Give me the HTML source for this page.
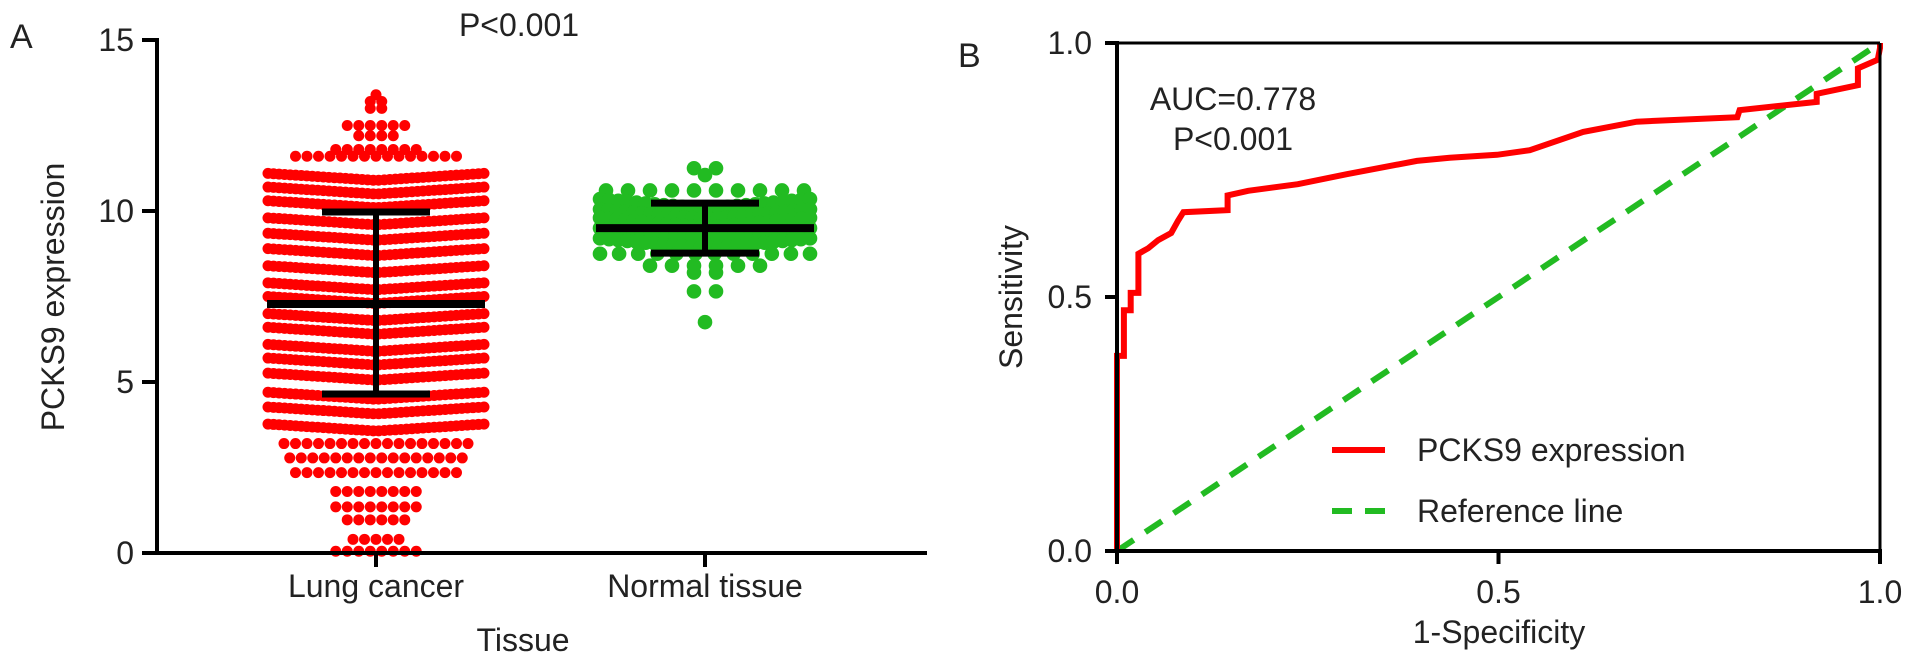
<!DOCTYPE html>
<html><head><meta charset="utf-8"><style>
html,body{margin:0;padding:0;background:#fff;}
svg{display:block;font-family:"Liberation Sans",Arial,sans-serif;}
</style></head><body>
<svg id="fig" width="1913" height="665" viewBox="0 0 1913 665" xmlns="http://www.w3.org/2000/svg">
<g id="panelA"></g>
<g id="panelB"></g>
</svg>
<script>
// ---- Panel A data ----
const lungRowValues = [13.4,13.2,13.0,12.5,12.2,11.8,11.6,11.1,10.7,10.3,9.8,9.35,8.9,8.4,7.9,7.5,7.0,6.6,6.1,5.7,5.26,4.7,4.27,3.77,3.2,2.78,2.35,1.8,1.35,0.97,0.4,0.05];
const lungRowCounts = [1,2,2,6,4,8,15,40,40,40,40,40,40,40,40,40,40,40,40,40,40,40,40,40,17,16,15,8,8,6,5,8];
const normalRowValues = [11.25,11.05,10.6,10.35,10.05,9.8,9.5,9.2,8.75,8.4,8.2,7.65,6.75];
const normalRowCounts = [2,1,10,24,26,26,26,24,12,6,2,2,1];
const groupNames = ["Lung cancer","Normal tissue"];
const groupMeans = [7.28,9.5];
const groupSdHigh = [9.97,10.23];
const groupSdLow = [4.65,8.77];
const yTicksA = [0,5,10,15];
// ---- Panel B data ----
const rocFpr = [0,0,.009,.009,.018,.018,.028,.028,.041,.054,.071,.08,.087,.145,.145,.172,.237,.302,.393,.436,.498,.541,.611,.681,.813,.816,.917,.917,.971,.971,.997,1,1];
const rocSens = [0,.384,.384,.474,.474,.508,.508,.585,.596,.612,.626,.65,.667,.671,.70,.709,.722,.742,.768,.774,.78,.789,.825,.845,.854,.868,.884,.90,.917,.95,.967,.99,1];
const refLine = [0,1];
const ticksB = [0,0.5,1.0];
const tickLabelsB = ["0.0","0.5","1.0"];

const NS="http://www.w3.org/2000/svg";
const FS=32;
function mk(parent,tag,attrs,text){const e=document.createElementNS(NS,tag);for(const k in attrs)e.setAttribute(k,attrs[k]);if(text!==undefined)e.textContent=text;parent.appendChild(e);return e;}

// ===== Panel A =====
const A=document.getElementById('panelA');
const ax0=157, ay0=553, ayTop=40, axEnd=927;
const yA=v=>ay0-(v/15)*(ay0-ayTop);
const groupX=[376,705];
let t;
t=mk(A,'text',{x:10,y:48,'font-size':34,fill:'#222'},'A');


t=mk(A,'text',{x:519,y:36,'font-size':FS,'text-anchor':'middle',fill:'#222'},'P<0.001');



function drawRows(vals,counts,cx,maxW,sp,r,color,amp,name){
  const g=mk(A,'g',{});
  
  
  vals.forEach((v,i)=>{
    const n=counts[i];
    const step=n>1?Math.min(sp,maxW/(n-1)):0;
    const w=step*(n-1);
    const dense=n>=20;
    for(let j=0;j<n;j++){
      const dx=-w/2+j*step;
      const dy=dense&&w>0?amp*(1-Math.abs(dx)/(w/2)):0;
      const c=mk(g,'circle',{cx:cx+dx,cy:yA(v)+dy,r:r,fill:color});
      
      
    }
  });
}
drawRows(lungRowValues,lungRowCounts,groupX[0],216,11.5,5.5,'#ff0000',7,'lung-cancer-points');
drawRows(normalRowValues,normalRowCounts,groupX[1],210,22,7.3,'#22bb22',10,'normal-tissue-points');

const meanHalf=[109,109], capHalf=[54,54];
groupNames.forEach((nm,i)=>{
  const cx=groupX[i];
  const g=mk(A,'g',{stroke:'#000','stroke-linecap':'butt'});
  
  
  mk(g,'line',{x1:cx,x2:cx,y1:yA(groupSdHigh[i]),y2:yA(groupSdLow[i]),'stroke-width':6});
  mk(g,'line',{x1:cx-meanHalf[i],x2:cx+meanHalf[i],y1:yA(groupMeans[i]),y2:yA(groupMeans[i]),'stroke-width':8});
  mk(g,'line',{x1:cx-capHalf[i],x2:cx+capHalf[i],y1:yA(groupSdHigh[i]),y2:yA(groupSdHigh[i]),'stroke-width':7});
  mk(g,'line',{x1:cx-capHalf[i],x2:cx+capHalf[i],y1:yA(groupSdLow[i]),y2:yA(groupSdLow[i]),'stroke-width':7});
});

const axA=mk(A,'g',{stroke:'#000','stroke-width':4});


mk(axA,'line',{x1:ax0,x2:ax0,y1:ayTop-2,y2:ay0+2});
mk(axA,'line',{x1:ax0-15,x2:axEnd,y1:ay0,y2:ay0});
yTicksA.forEach(v=>{
  mk(axA,'line',{x1:ax0-15,x2:ax0,y1:yA(v),y2:yA(v)});
  const l=mk(A,'text',{x:134,y:yA(v)+11,'font-size':FS,'text-anchor':'end',fill:'#222'},String(v));
  
  
});
groupNames.forEach((nm,i)=>{
  mk(axA,'line',{x1:groupX[i],x2:groupX[i],y1:ay0,y2:ay0+14});
  const l=mk(A,'text',{x:groupX[i],y:597,'font-size':FS,'text-anchor':'middle',fill:'#222'},nm);
  
  
});
t=mk(A,'text',{x:523,y:651,'font-size':FS,'text-anchor':'middle',fill:'#222'},'Tissue');


t=mk(A,'text',{x:0,y:0,'font-size':FS,'text-anchor':'middle',fill:'#222',transform:'translate(64,297) rotate(-90)'},'PCKS9 expression');



// ===== Panel B =====
const B=document.getElementById('panelB');
const bx0=1117,bx1=1880,by0=551,by1=43;
const xB=v=>bx0+v*(bx1-bx0);
const yB=v=>by0-v*(by0-by1);
t=mk(B,'text',{x:958,y:67,'font-size':34,fill:'#222'},'B');



const ref=mk(B,'line',{x1:xB(refLine[0]),y1:yB(refLine[0]),x2:xB(refLine[1]),y2:yB(refLine[1]),stroke:'#22bb22','stroke-width':6,'stroke-dasharray':'20 14'});


const pts=rocFpr.map((f,i)=>xB(f).toFixed(1)+','+yB(rocSens[i]).toFixed(1)).join(' ');
const roc=mk(B,'polyline',{points:pts,fill:'none',stroke:'#ff0000','stroke-width':6,'stroke-linejoin':'miter'});



const axB=mk(B,'g',{stroke:'#000','stroke-width':4,fill:'none'});


mk(axB,'line',{x1:bx0,x2:bx1,y1:by1,y2:by1,'stroke-width':3});
mk(axB,'line',{x1:bx1,x2:bx1,y1:by1,y2:by0,'stroke-width':3});
mk(axB,'line',{x1:bx0,x2:bx0,y1:by1-2,y2:by0+2});
mk(axB,'line',{x1:bx0-12,x2:bx1+2,y1:by0,y2:by0});
ticksB.forEach((v,i)=>{
  mk(axB,'line',{x1:bx0-12,x2:bx0,y1:yB(v),y2:yB(v)});
  mk(axB,'line',{x1:xB(v),x2:xB(v),y1:by0,y2:by0+13});
  let l=mk(B,'text',{x:1092,y:yB(v)+11,'font-size':FS,'text-anchor':'end',fill:'#222'},tickLabelsB[i]);
  
  
  l=mk(B,'text',{x:xB(v),y:603,'font-size':FS,'text-anchor':'middle',fill:'#222'},tickLabelsB[i]);
  
  
});
t=mk(B,'text',{x:1499,y:643,'font-size':FS,'text-anchor':'middle',fill:'#222'},'1-Specificity');


t=mk(B,'text',{x:0,y:0,'font-size':FS,'text-anchor':'middle',fill:'#222',transform:'translate(1022,297) rotate(-90)'},'Sensitivity');


t=mk(B,'text',{x:1233,y:110,'font-size':FS,'text-anchor':'middle',fill:'#222'},'AUC=0.778');


t=mk(B,'text',{x:1233,y:150,'font-size':FS,'text-anchor':'middle',fill:'#222'},'P<0.001');



const lg=mk(B,'g',{});


let e=mk(lg,'line',{x1:1332,x2:1385,y1:450,y2:450,stroke:'#ff0000','stroke-width':6});


e=mk(lg,'text',{x:1417,y:461,'font-size':FS,fill:'#222'},'PCKS9 expression');


e=mk(lg,'line',{x1:1332,x2:1385,y1:511,y2:511,stroke:'#22bb22','stroke-width':6,'stroke-dasharray':'20 13'});


e=mk(lg,'text',{x:1417,y:522,'font-size':FS,fill:'#222'},'Reference line');


</script>
</body></html>
